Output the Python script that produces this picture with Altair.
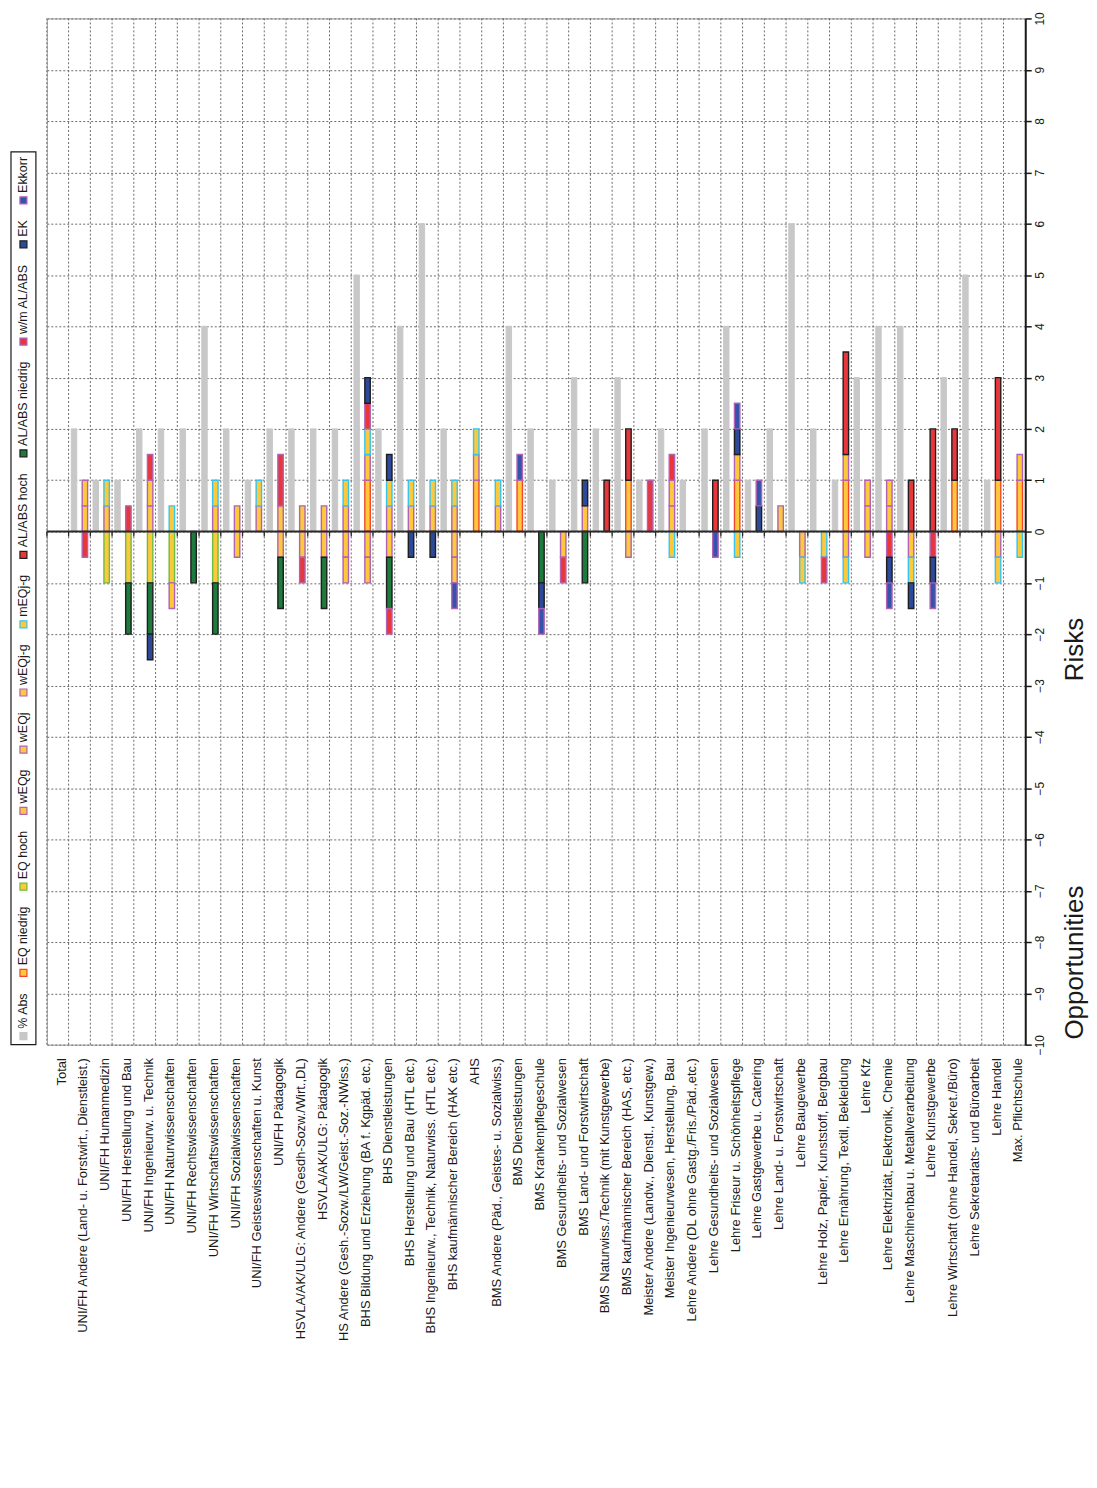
import altair as alt
import pandas as pd

CATS = [
    "Total",
    "UNI/FH Andere (Land- u. Forstwirt., Dienstleist.)",
    "UNI/FH Humanmedizin",
    "UNI/FH Herstellung und Bau",
    "UNI/FH Ingenieurw. u. Technik",
    "UNI/FH Naturwissenschaften",
    "UNI/FH Rechtswissenschaften",
    "UNI/FH Wirtschaftswissenschaften",
    "UNI/FH Sozialwissenschaften",
    "UNI/FH Geisteswissenschaften u. Kunst",
    "UNI/FH Pädagogik",
    "HSVLA/AK/ULG: Andere (Gesdh-Sozw./Wirt.,DL)",
    "HSVLA/AK/ULG: Pädagogik",
    "HS Andere (Gesh.-Sozw./LW/Geist.-Soz.-NWiss.)",
    "BHS Bildung und Erziehung (BA f. Kgpäd. etc.)",
    "BHS Dienstleistungen",
    "BHS Herstellung und Bau (HTL etc.)",
    "BHS Ingenieurw., Technik, Naturwiss. (HTL etc.)",
    "BHS kaufmännischer Bereich (HAK etc.)",
    "AHS",
    "BMS Andere (Päd., Geistes- u. Sozialwiss.)",
    "BMS Dienstleistungen",
    "BMS Krankenpflegeschule",
    "BMS Gesundheits- und Sozialwesen",
    "BMS Land- und Forstwirtschaft",
    "BMS Naturwiss./Technik (mit Kunstgewerbe)",
    "BMS kaufmännischer Bereich (HAS, etc.)",
    "Meister Andere (Landw., Dienstl., Kunstgew.)",
    "Meister Ingenieurwesen, Herstellung, Bau",
    "Lehre Andere (DL ohne Gastg./Fris./Päd.,etc.)",
    "Lehre Gesundheits- und Sozialwesen",
    "Lehre Friseur u. Schönheitspflege",
    "Lehre Gastgewerbe u. Catering",
    "Lehre Land- u. Forstwirtschaft",
    "Lehre Baugewerbe",
    "Lehre Holz, Papier, Kunststoff, Bergbau",
    "Lehre Ernährung, Textil, Bekleidung",
    "Lehre Kfz",
    "Lehre Elektrizität, Elektronik, Chemie",
    "Lehre Maschinenbau u. Metallverarbeitung",
    "Lehre Kunstgewerbe",
    "Lehre Wirtschaft (ohne Handel, Sekret./Büro)",
    "Lehre Sekretariats- und Büroarbeit",
    "Lehre Handel",
    "Max. Pflichtschule",
]

SERIES_NAMES = ["% Abs", "EQ niedrig", "EQ hoch", "wEQg", "wEQj", "wEQj-g", "mEQj-g",
                "AL/ABS hoch", "AL/ABS niedrig", "w/m AL/ABS", "EK", "Ekkorr"]

ABS = [0, 2, 1, 1, 2, 2, 2, 4, 2, 1,
       2, 2, 2, 2, 5, 2, 4, 6, 2, 0,
       0, 4, 2, 1, 3, 2, 3, 1, 2, 1,
       2, 4, 1, 2, 6, 2, 1, 3, 4, 4,
       0, 3, 5, 1, 0]
EQ_NIEDRIG = [0, 0, 0, 0, 0, 0, 0, 0, 0, 0,
              0, 0, 0, 0, 1, 0, 0, 0, 0, 1,
              0, 1, 0, 0, 0, 0, 1, 0, 0, 0,
              0, 1, 0, 0, 0, 0, 1, 0, 0, 0,
              0, 1, 0, 1, 1]
EQ_HOCH = [0, 0, -1, -1, -1, -1, 0, -1, 0, 0,
           0, 0, 0, 0, 0, 0, 0, 0, 0, 0,
           0, 0, 0, 0, 0, 0, 0, 0, 0, 0,
           0, 0, 0, 0, 0, 0, 0, 0, 0, 0,
           0, 0, 0, 0, 0]
WEQG = [0, .5, .5, 0, .5, -.5, 0, .5, .5, .5,
        .5, .5, .5, .5, .5, .5, .5, .5, .5, .5,
        .5, 0, 0, -.5, .5, 0, -.5, 0, .5, 0,
        0, .5, 0, .5, -.5, 0, .5, .5, .5, -.5,
        0, 0, 0, -.5, .5]
WEQJ = [0, .5, 0, 0, .5, 0, 0, 0, -.5, 0,
        -.5, -.5, -.5, -.5, -.5, -.5, 0, 0, -.5, 0,
        0, 0, 0, 0, 0, 0, 0, 0, .5, 0,
        0, 0, 0, 0, 0, 0, -.5, .5, .5, 0,
        0, 0, 0, 0, 0]
WEQJG = [0, 0, 0, 0, 0, 0, 0, 0, 0, 0,
         0, 0, 0, -.5, -.5, 0, 0, 0, -.5, 0,
         0, 0, 0, 0, 0, 0, 0, 0, 0, 0,
         0, 0, 0, 0, 0, 0, 0, -.5, 0, 0,
         0, 0, 0, 0, 0]
MEQJG = [0, 0, .5, 0, 0, .5, 0, .5, 0, .5,
         0, 0, 0, .5, .5, .5, .5, .5, .5, .5,
         .5, 0, 0, 0, 0, 0, 0, 0, -.5, 0,
         0, -.5, 0, 0, -.5, -.5, -.5, 0, 0, -.5,
         0, 0, 0, -.5, -.5]
AL_HOCH = [0, 0, 0, 0, 0, 0, 0, 0, 0, 0,
           0, 0, 0, 0, 0, 0, 0, 0, 0, 0,
           0, 0, 0, 0, 0, 1, 1, 0, 0, 0,
           1, 0, 0, 0, 0, 0, 2, 0, 0, 1,
           2, 1, 0, 2, 0]
AL_NIEDRIG = [0, 0, 0, -1, -1, 0, -1, -1, 0, 0,
              -1, 0, -1, 0, 0, -1, 0, 0, 0, 0,
              0, 0, -1, 0, -1, 0, 0, 0, 0, 0,
              0, 0, 0, 0, 0, 0, 0, 0, 0, 0,
              0, 0, 0, 0, 0]
WM = [0, -.5, 0, .5, .5, 0, 0, 0, 0, 0,
      1, -.5, 0, 0, .5, -.5, 0, 0, 0, 0,
      0, 0, 0, -.5, 0, 0, 0, 1, .5, 0,
      0, 0, 0, 0, 0, -.5, 0, 0, -.5, 0,
      -.5, 0, 0, 0, 0]
EK = [0, 0, 0, 0, -.5, 0, 0, 0, 0, 0,
      0, 0, 0, 0, .5, .5, -.5, -.5, 0, 0,
      0, 0, -.5, 0, .5, 0, 0, 0, 0, 0,
      0, .5, .5, 0, 0, 0, 0, 0, -.5, -.5,
      -.5, 0, 0, 0, 0]
EKKORR = [0, 0, 0, 0, 0, 0, 0, 0, 0, 0,
          0, 0, 0, 0, 0, 0, 0, 0, -.5, 0,
          0, .5, -.5, 0, 0, 0, 0, 0, 0, 0,
          -.5, .5, .5, 0, 0, 0, 0, 0, -.5, 0,
          -.5, 0, 0, 0, 0]

SERIES_VALUES = [ABS, EQ_NIEDRIG, EQ_HOCH, WEQG, WEQJ, WEQJG, MEQJG,
                 AL_HOCH, AL_NIEDRIG, WM, EK, EKKORR]

FILLS = ["#c8c8c8", "#fcc83c", "#fcc83c", "#fcc83c", "#fcc83c", "#fcc83c", "#fcc83c",
         "#e8363b", "#1e7a3d", "#e8363b", "#2d4a9a", "#3652aa"]
STROKES = ["#c8c8c8", "#f4452b", "#6abd42", "#b062b4", "#b062b4", "#b062b4", "#37c3f0",
           "#1e1e1e", "#1e1e1e", "#b062b4", "#1e1e1e", "#b062b4"]

AXIS_WORDS = ["Risks", "Opportunities"]
AXIS_WORD_AT = [-2.3, -8.4]

W, H = 982, 1030
LEG_W = 25
LEGEND_SPAN = 896
FONT = "Liberation Sans, Arial, sans-serif"
NARROW = "Liberation Sans Narrow, Arial Narrow, Liberation Sans, sans-serif"

# ---------- data tables ----------
rows = []
for i, cat in enumerate(CATS):
    for k, (name, vals) in enumerate(zip(SERIES_NAMES, SERIES_VALUES)):
        if vals[i] != 0:
            rows.append({"cat": cat, "series": name, "value": vals[i],
                         "grp": "abs" if k == 0 else "stk", "ord": k})
df = pd.DataFrame(rows)
grey_df = df[df["grp"] == "abs"]
stk_df = df[df["grp"] == "stk"]
cats_df = pd.DataFrame({"cat": CATS})

# ---------- scales / axes ----------
x_scale = alt.Scale(domain=CATS, paddingInner=0, paddingOuter=0)
x_axis = alt.Axis(title=None, labelAngle=270, labelAlign="right", labelBaseline="middle",
                  labelFont=FONT, labelFontSize=13, labelColor="#1a1a1a", labelPadding=13,
                  labelOffset=4, labelLimit=600, labelOverlap=False,
                  ticks=False, domain=False, grid=False)
y_scale = alt.Scale(domain=[-10, 10], nice=False, zero=False)
y_axis = alt.Axis(title=None, orient="right", values=list(range(-10, 11)), grid=True,
                  gridColor="#6a6a6a", gridDash=[2, 2], gridWidth=1,
                  domainColor="#1a1a1a", domainWidth=2, tickColor="#1a1a1a",
                  tickSize=6, tickWidth=1.5, labelAngle=270, labelAlign="center",
                  labelBaseline="top", labelFont=NARROW, labelFontSize=12,
                  labelColor="#1a1a1a", labelPadding=3, labelOverlap=False,
                  labelFlush=False)
xoff = alt.XOffset("grp:N", scale=alt.Scale(domain=["abs", "stk"], paddingInner=0.5,
                                            paddingOuter=0.25))
fill_enc = alt.Fill("series:N", scale=alt.Scale(domain=SERIES_NAMES, range=FILLS), legend=None)
stroke_enc = alt.Stroke("series:N", scale=alt.Scale(domain=SERIES_NAMES, range=STROKES),
                        legend=None)


def X(**kw):
    return alt.X("cat:N", sort=CATS, scale=x_scale, axis=x_axis, **kw)


vgrid = alt.Chart(cats_df).mark_rule(color="#6a6a6a", strokeDash=[2, 2], strokeWidth=1).encode(
    x=X(bandPosition=0))

grey = alt.Chart(grey_df).mark_bar(strokeWidth=1).encode(
    x=X(), xOffset=xoff,
    y=alt.Y("value:Q", stack=None, scale=y_scale, axis=y_axis),
    fill=fill_enc, stroke=stroke_enc)

stk = alt.Chart(stk_df).mark_bar(strokeWidth=1.4).encode(
    x=X(), xOffset=xoff,
    y=alt.Y("value:Q", stack="zero", scale=y_scale, axis=y_axis),
    fill=fill_enc, stroke=stroke_enc,
    order=alt.Order("ord:Q", sort="ascending"))

zero = alt.Chart(pd.DataFrame({"v": [0]})).mark_rule(color="#2a2a2a", strokeWidth=2).encode(
    y=alt.Y("v:Q", scale=y_scale, axis=y_axis))

zticks = alt.Chart(cats_df).mark_rule(color="#2a2a2a", strokeWidth=1.3, y2Offset=5).encode(
    x=X(bandPosition=0), y=alt.datum(0), y2=alt.datum(0))

words = alt.Chart(pd.DataFrame({"t": AXIS_WORDS, "v": AXIS_WORD_AT})).mark_text(
    angle=270, align="center", baseline="middle", font=NARROW, fontSize=26,
    color="#1a1a1a").encode(
    y=alt.Y("v:Q", scale=y_scale, axis=y_axis), x=alt.value(W + 50), text="t:N")

main = alt.layer(vgrid, grey, stk, zero, zticks, words).properties(
    width=W, height=H, view=alt.ViewBackground(stroke="#a0a0a0", strokeWidth=1))

# ---------- custom rotated legend ----------
ARIAL = {" ": 278, "%": 889, "A": 667, "b": 556, "s": 500, "E": 667, "Q": 778, "n": 556,
         "i": 222, "e": 556, "d": 556, "r": 333, "g": 556, "h": 556, "o": 556, "c": 500,
         "w": 722, "j": 222, "-": 333, "m": 833, "L": 556, "/": 278, "B": 667, "S": 667,
         "K": 667, "k": 500}
LEG_FS = 12.5
SW = 7


def text_w(s, fs):
    return sum(ARIAL.get(ch, 556) for ch in s) * fs / 1000.0


widths = [text_w(s, LEG_FS) for s in SERIES_NAMES]
used = sum(SW + 4 + w for w in widths)
gap = (LEGEND_SPAN - 10 - used) / (len(widths) - 1)
pos = 5.0
leg_rows = []
for name, w in zip(SERIES_NAMES, widths):
    leg_rows.append({"series": name, "sw": pos + SW / 2.0, "tx": pos + SW + 4})
    pos += SW + 4 + w + gap
leg_df = pd.DataFrame(leg_rows)

ly = alt.Scale(domain=[0, H], nice=False, zero=False)
box = alt.Chart(pd.DataFrame({"a": [0], "b": [LEGEND_SPAN]})).mark_rect(
    fill="white", stroke="#1a1a1a", strokeWidth=1.2).encode(
    x=alt.value(0), x2=alt.value(LEG_W),
    y=alt.Y("a:Q", scale=ly, axis=None), y2="b:Q")
swatch = alt.Chart(leg_df).mark_square(size=SW * SW, filled=True, opacity=1,
                                       strokeWidth=1.2).encode(
    x=alt.value(LEG_W / 2.0), y=alt.Y("sw:Q", scale=ly, axis=None),
    fill=fill_enc, stroke=stroke_enc)
ltext = alt.Chart(leg_df).mark_text(angle=270, align="left", baseline="middle", font=FONT,
                                    fontSize=LEG_FS, color="#1a1a1a").encode(
    x=alt.value(LEG_W / 2.0), y=alt.Y("tx:Q", scale=ly, axis=None), text="series:N")
legend = alt.layer(box, swatch, ltext).properties(width=LEG_W, height=H)

chart = alt.hconcat(legend, main, spacing=11, bounds="flush").configure(
    padding={"left": 2, "top": 0, "right": 0, "bottom": 0}).configure_view(strokeWidth=0)

chart.save("out.html", embed_options={"renderer": "svg", "actions": False})
